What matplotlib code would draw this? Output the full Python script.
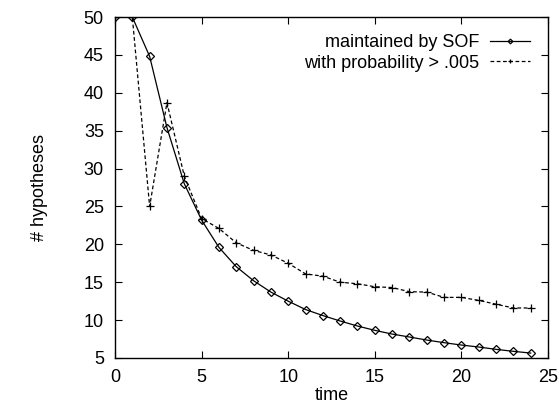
import matplotlib.pyplot as plt

plt.rcParams['font.family'] = ['Liberation Sans', 'DejaVu Sans']

time = list(range(25))
sof = [50, 50, 44.8, 35.4, 28.0, 23.2, 19.6, 17.05, 15.2, 13.7, 12.5, 11.4, 10.6,
       9.88, 9.22, 8.65, 8.16, 7.77, 7.37, 7.02, 6.71, 6.45, 6.14, 5.88, 5.65]
prob = [50, 50, 25.0, 38.7, 29.0, 23.4, 22.1, 20.2, 19.2, 18.6, 17.5, 16.1, 15.8,
        15.0, 14.8, 14.4, 14.3, 13.75, 13.7, 13.0, 13.0, 12.6, 12.1, 11.6, 11.6]

xticks = [0, 5, 10, 15, 20, 25]
yticks = [5, 10, 15, 20, 25, 30, 35, 40, 45, 50]

fig = plt.figure(figsize=(5.59, 4.03), dpi=100)
ax = fig.add_axes([115 / 559, 45 / 403, 433 / 559, 341 / 403])

ax.plot(time, sof, color='black', lw=0.9, marker='D', ms=4, mfc='none',
        mew=0.9, label='maintained by SOF')
ax.plot(time, prob, color='black', lw=0.9, ls=(0, (3, 2)), marker='+', ms=6,
        mew=0.9, label='with probability > .005')

ax.set_xlim(0, 25)
ax.set_ylim(5, 50)
ax.set_xticks(xticks)
ax.set_yticks(yticks)
ax.tick_params(direction='in', length=5, width=0.8, labelsize=13,
               top=True, right=True)
ax.tick_params(axis='x', pad=8)
ax.tick_params(axis='y', pad=8)
for s in ax.spines.values():
    s.set_linewidth(1.0)

ax.set_xlabel('time', fontsize=13, labelpad=1)
fig.text(40 / 559, 1 - 187 / 403, '# hypotheses', rotation=90,
         ha='center', va='center', fontsize=13)

leg = ax.legend(loc='upper right', bbox_to_anchor=(530 / 559, 1 - 34 / 403),
                bbox_transform=fig.transFigure, frameon=False, markerfirst=False,
                fontsize=13, handlelength=2.2, handletextpad=0.6,
                labelspacing=0.2, borderpad=0, borderaxespad=0, markerscale=0.6)

fig.savefig('out.png', dpi=100)
